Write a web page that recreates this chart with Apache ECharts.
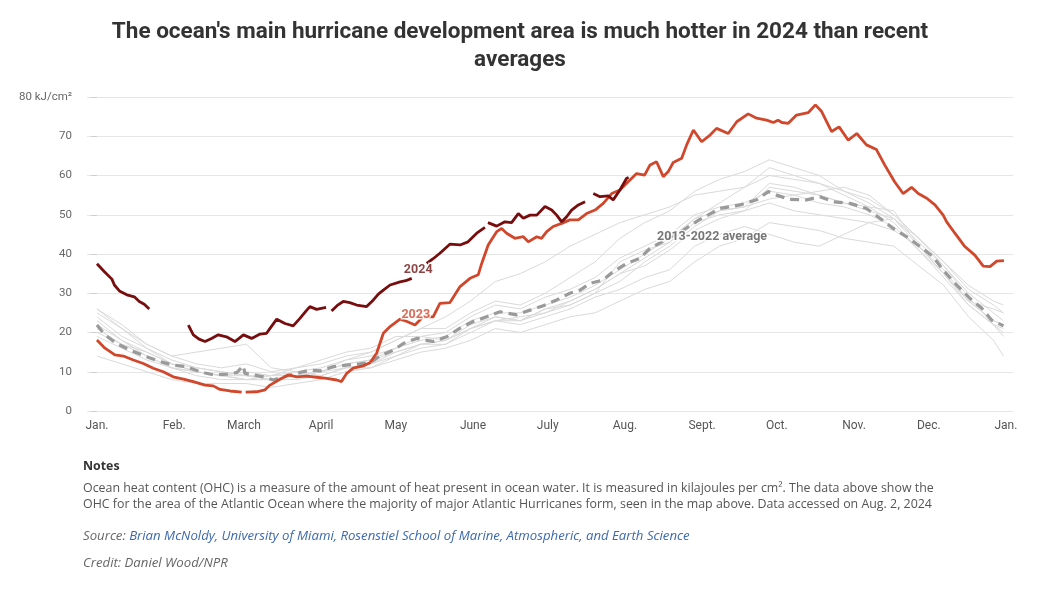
<!DOCTYPE html>
<html><head><meta charset="utf-8">
<script src="https://cdn.jsdelivr.net/npm/echarts@6/dist/echarts.min.js"></script>
<style>html,body{margin:0;padding:0;background:#fff}#c{width:1057px;height:600px}</style>
</head><body><div id="c"></div>
<script>
// ---- axis definitions ----
const monthStartDays = [0,31,59,90,120,151,181,212,243,273,304,334,365];
const monthLabels = ['Jan.','Feb.','March','April','May','June','July','Aug.','Sept.','Oct.','Nov.','Dec.','Jan.'];
const yTickUnit = 'kJ/cm²';

// ---- 2024 (day of year, OHC); null = gap ----
const days2024 = [0,3,6,7,9,12,15,17,19,21, 28, 36.7,38.7,41,43.4,46,48.7,52,55.4,58.8,62.1,65.5,68.1,70,72.2,75.5,78.8,81.5,84,85.5,88.2,92, 93, 94.2,96.5,98.9,101.5,104.3,108.3,111,113,115,117.7,121.7,124,126.4, 129, 132.4,135,137.7,141.7,145.8,149,152.5,155.8, 156.4, 157,160.5,163.8,166.5,169.2,171.2,173.9,176.6,179.9,182.6,184.6,186.6,188.6,190.6,193.3,196, 197.6, 199.3,202,205.3,207.3,210,212.7,213.5];
const values2024 = [37.5,35.5,33.6,32.1,30.6,29.6,29.1,27.9,27.2,26.0, null, 21.9,19.4,18.3,17.7,18.5,19.4,18.9,17.7,19.4,18.5,19.6,19.8,21.5,23.4,22.3,21.7,23.6,25.5,26.6,25.9,26.4, null, 25.5,26.9,27.9,27.6,27.0,26.6,28.3,29.8,30.8,32.1,32.9,33.2,33.8, null, 37.6,38.8,40.2,42.5,42.3,43.1,45.3,46.8, null, 48.0,47.1,48.2,48.0,50.3,49.1,49.9,49.9,52.1,51.2,49.9,48.2,49.5,51.2,52.5,53.3, null, 55.4,54.6,54.8,53.8,56.3,59.3,59.5];

// ---- 2023 ----
const days2023 = [0,3.2,7.2,10.6,14.6,18.6,22.6,26.6,30.6,34.7,38.7,43.4,46.7,49.4,53.4,58.1, 59, 59.7,64.1,67.5,69.5,73.5,76.8,80.2,84.2,88.2,92.2,96.3,98.2,100.3,102.9,106.9,109.6,112.3,115,117.7,121.7,124.5,127.7,131,135,137.7,141.7,145.8,149.8,153.1,154.5,157.1,160.5,162.5,164.5,167.8,171.2,173.2,176.6,178.5,180.6,183.2,186.6,189.9,193.3,196.6,200,203.3,206.7,210,212.7,216.7,219.9,222.1,224.7,227.4,229.4,231.4,234.8,236.8,239.5,242.8,246.2,248.8,253.5,256.9,261.5,264.9,268.9,271.6,273.5,275,277.6,280.9,285.6,288.5,291,295,298,301.7,305.1,309,313,316.3,320.3,323.7,327.1,329.8,333.2,336.5,339.8,341.2,344.5,348.5,352.5,355.9,358.6,361.3,364.2];
const values2023 = [18.1,16.0,14.3,14.0,13.0,12.1,10.9,10.0,8.7,8.1,7.5,6.6,6.4,5.5,5.1,4.8, null, 4.8,4.9,5.4,6.6,8.1,9.2,8.7,8.9,8.6,8.3,7.9,7.5,9.6,10.9,11.5,12.3,14.7,19.8,21.5,23.4,22.8,21.9,24.0,24.0,27.4,27.6,31.7,33.8,34.7,37.6,42.3,45.7,46.5,45.3,44.0,44.4,43.1,44.4,44.0,45.7,47.0,47.8,48.7,48.7,50.3,51.2,52.9,55.4,56.3,58.0,60.5,60.1,62.7,63.5,59.7,61.0,63.3,64.4,67.8,71.6,68.6,70.3,72.0,70.7,73.7,75.7,74.6,74.1,73.5,74.1,73.5,73.3,75.4,76.0,78.0,76.3,71.2,72.4,69.0,70.7,67.8,66.6,62.7,58.4,55.4,57.0,55.4,54.2,52.5,49.9,48.2,45.3,41.9,39.7,36.9,36.8,38.2,38.3];

// ---- 2013-2022 average ----
const daysAvg = [0,3.2,7.9,13.3,19.9,25.3,30.6,36,41.4,46.7,52.1,56.1,58.8,59.4,62.8,66.8,70.8,74.8,80.2,85.5,89.5,94.9,100.3,105.6,109.6,113.6,119,123,128.4,135,140.4,145.8,151.1,156.5,161.8,168.5,173.9,179.2,184.6,189.9,194,198,203.3,207.3,212.7,218,222,228,235.5,241.8,250.2,258.2,264.9,269.6,272.9,278.3,285,290.3,295.7,302.4,309,314.4,319.7,325.1,330.5,335.8,339.8,345.2,350.5,355.3,359.2,364];
const valuesAvg = [21.9,19.4,17.2,15.5,13.8,12.6,11.7,11.3,10.0,9.2,9.4,9.8,11.5,9.6,9.2,8.7,7.9,8.7,9.6,10.4,10.2,11.3,11.7,12.0,12.3,14.0,15.5,17.2,18.5,17.7,18.9,21.1,22.8,24.0,25.3,24.5,25.7,26.8,28.3,30.0,30.8,32.5,33.4,35.5,37.6,38.9,41.4,43.5,46.1,48.7,51.6,52.5,53.8,55.9,55.0,53.9,53.8,54.6,53.3,52.9,51.6,49.1,46.5,44.4,41.9,39.3,35.9,32.1,28.7,26.2,23.2,21.7];

// ---- individual years 2013-2022 (estimated, thin grey) ----
const daysYears = [0,10,20,30,40,50,60,70,80,90,100,110,120,130,140,150,160,170,180,190,200,210,220,230,240,250,260,270,280,290,300,310,320,330,340,350,360,364];
const yearA = [26,22,17,14,12,11,12,10,11,12,14,15,18,21,21,25,28,27,30,34,38,44,48,51,56,59,61,64,62,60,56,54,50,44,38,31,27,25];
const yearB = [14,12,10,8,7,7,7,6,7,8,10,11,13,15,16,18,21,20,22,24,25,28,31,33,38,42,44,48,47,46,44,43,42,37,32,24,18,14];
const yearC = [24,19,16,13,11,10,9,8,9,10,11,11,14,17,17,20,23,24,25,27,30,33,38,42,47,51,52,58,57,55,53,51,49,43,37,30,25,23];
const yearD = [20,17,14,11,10,9,10,9,10,11,13,14,16,19,20,24,27,26,29,31,34,39,42,45,50,52,53,56,55,53,52,50,47,41,34,27,22,20];
const yearE = [25,21,17,14,15,16,17,11,10,9,11,12,15,17,18,21,24,23,26,28,31,35,37,41,46,49,51,53,51,50,49,48,46,42,35,28,23,22];
const yearF = [23,18,14,11,9,8,8,8,9,10,13,15,18,21,24,28,33,35,38,42,45,48,50,52,55,56,57,60,59,58,55,52,48,41,35,27,22,21];
const yearG = [21,17,15,12,11,10,9,9,9,10,12,13,15,17,18,21,23,23,25,28,31,35,39,43,49,53,57,62,60,58,56,53,49,42,36,28,23,22];
const yearH = [22,18,15,12,10,9,9,8,8,9,11,12,14,16,17,21,23,22,24,26,29,31,34,36,42,45,47,45,43,42,45,48,49,44,38,32,28,27];
const yearI = [19,16,13,11,10,9,8,8,9,10,12,13,16,18,19,23,25,25,27,29,32,36,40,44,49,51,52,54,55,56,57,55,50,44,37,29,22,19];
const yearJ = [26,21,16,12,10,9,8,9,11,13,15,16,19,19,18,22,24,23,26,27,30,38,41,43,48,50,51,57,56,55,53,52,51,42,35,28,26,25];
const greyYears = [yearA,yearB,yearC,yearD,yearE,yearF,yearG,yearH,yearI,yearJ];

// ---- annotation labels ----
const labelTexts = ['2024','2023','2013-2022 average'];
const labelPos = [[129,36.0],[128,24.6],[247,44.3]];

function pairs(xs, ys){ return xs.map((x,i)=>[x, ys[i]===null ? '-' : ys[i]]); }

const series = [];
greyYears.forEach((ys,i)=>{
  series.push({type:'line', name:'yr'+i, data:pairs(daysYears, ys), showSymbol:false, silent:true,
    lineStyle:{color:'#dadada', width:1}, z:1});
});
series.push({type:'line', name:'avg', data:pairs(daysAvg, valuesAvg), showSymbol:false,
  lineStyle:{color:'#9a9a9a', width:3.2, type:[9,6]}, z:2});
series.push({type:'line', name:'2023', data:pairs(days2023, values2023), showSymbol:false, connectNulls:false,
  lineStyle:{color:'#d1472c', width:2.8}, z:3});
series.push({type:'line', name:'2024', data:pairs(days2024, values2024), showSymbol:false, connectNulls:false,
  lineStyle:{color:'#780d0d', width:2.8}, z:4});
const labelColors = ['#6e1414','#d1472c','#555555'];
series.push({type:'scatter', symbolSize:0, z:10, silent:true,
  data: labelPos.map((p,i)=>({value:p, label:{show:true, formatter:labelTexts[i], position:'inside',
    color:labelColors[i], fontSize:12.5, fontWeight:'bold', fontFamily:'Roboto',
    textBorderColor:'#fff', textBorderWidth:3}}))});

const bodyFont = 'Open Sans';
const option = {
  animation:false,
  backgroundColor:'#fff',
  grid:{left:87, right:43.6, top:97, bottom:189},
  xAxis:{type:'value', min:-4, max:368,
    axisLine:{show:false}, axisTick:{show:false}, splitLine:{show:false},
    axisLabel:{customValues:monthStartDays, margin:9, color:'#555', fontSize:12, fontFamily:'Roboto',
      formatter:(v)=>{const i=monthStartDays.indexOf(v); return i>=0?monthLabels[i]:'';}}},
  yAxis:{type:'value', min:0, max:80, interval:10,
    axisLine:{show:false},
    axisTick:{show:true, length:6, lineStyle:{color:'#cfcfcf'}},
    splitLine:{lineStyle:{color:'#e6e6e6'}},
    axisLabel:{margin:15, color:'#666', fontSize:11.5, fontFamily:'Roboto',
      formatter:(v)=> v===80 ? '80 '+yTickUnit : String(v)}},
  series:series,
  graphic:[
    {type:'text', x:520, y:18, style:{text:"The ocean's main hurricane development area is much hotter in 2024 than recent\naverages",
      fill:'#333', font:'bold 22.5px Roboto', textAlign:'center', textVerticalAlign:'top', lineHeight:28}},
    {type:'text', left:83, top:460, style:{text:'Notes', fill:'#333', font:'bold 12.4px '+bodyFont}},
    {type:'text', left:83, top:480, style:{text:'Ocean heat content (OHC) is a measure of the amount of heat present in ocean water. It is measured in kilajoules per cm². The data above show the\nOHC for the area of the Atlantic Ocean where the majority of major Atlantic Hurricanes form, seen in the map above. Data accessed on Aug. 2, 2024',
      fill:'#555', font:'12.4px '+bodyFont, lineHeight:16}},
    {type:'text', left:83, top:530, style:{text:'{a|Source: }{b|Brian McNoldy, University of Miami, Rosenstiel School of Marine, Atmospheric, and Earth Science}',
      rich:{a:{fill:'#666', font:'italic 13.2px '+bodyFont}, b:{fill:'#3c68b0', font:'italic 13.2px '+bodyFont}}}},
    {type:'text', left:83, top:557, style:{text:'Credit: Daniel Wood/NPR', fill:'#666', font:'italic 13.2px '+bodyFont}}
  ]
};
const chart = echarts.init(document.getElementById('c'), null, {renderer:'canvas'});
chart.setOption(option);
</script></body></html>
